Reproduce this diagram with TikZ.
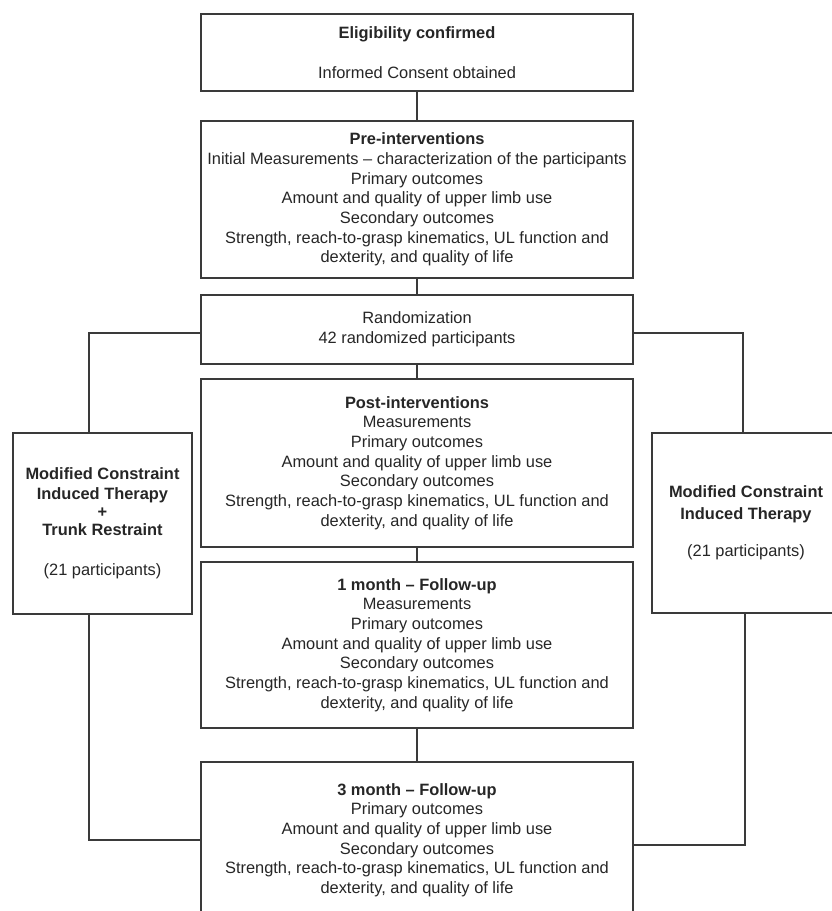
\documentclass[tikz,border=0pt]{standalone}
\usepackage{fontspec}
\setmainfont{Liberation Sans}
\definecolor{linec}{HTML}{3A3A3A}
\definecolor{textc}{HTML}{262626}
\begin{document}
\begin{tikzpicture}[x=1pt,y=-1pt,
  box/.style={draw=linec, line width=1.3pt, fill=white, align=center, inner sep=0pt, text=textc, font=\fontsize{16.4}{19.7}\selectfont},
  conn/.style={draw=linec, line width=1.3pt}]
\clip (0,0) rectangle (832,911);
\useasboundingbox (0,0) rectangle (832,911);
\node[box, minimum width=432pt, minimum height=77pt] (elig) at (417,52.5)
  {\textbf{Eligibility confirmed}\\[20pt]Informed Consent obtained};
\node[box, minimum width=432pt, minimum height=157pt] (pre) at (417,199.5)
  {\textbf{Pre-interventions}\\Initial Measurements -- characterization of the participants\\Primary outcomes\\Amount and quality of upper limb use\\Secondary outcomes\\Strength, reach-to-grasp kinematics, UL function and\\dexterity, and quality of life};
\node[box, minimum width=432pt, minimum height=69pt] (rand) at (417,329.5)
  {Randomization\\42 randomized participants};
\node[box, minimum width=432pt, minimum height=168pt] (post) at (417,463)
  {\textbf{Post-interventions}\\Measurements\\Primary outcomes\\Amount and quality of upper limb use\\Secondary outcomes\\Strength, reach-to-grasp kinematics, UL function and\\dexterity, and quality of life};
\node[box, minimum width=432pt, minimum height=166pt] (m1) at (417,645)
  {\textbf{1 month -- Follow-up}\\Measurements\\Primary outcomes\\Amount and quality of upper limb use\\Secondary outcomes\\Strength, reach-to-grasp kinematics, UL function and\\dexterity, and quality of life};
\node[box, minimum width=432pt, minimum height=156pt] (m3) at (417,840)
  {\textbf{3 month -- Follow-up}\\Primary outcomes\\Amount and quality of upper limb use\\Secondary outcomes\\Strength, reach-to-grasp kinematics, UL function and\\dexterity, and quality of life};
\node[box, minimum width=179pt, minimum height=181pt] (left) at (102.5,523.5)
  {\textbf{Modified Constraint}\\\textbf{Induced Therapy}\\[-2pt]\textbf{+}\\[-1pt]\textbf{Trunk Restraint}\\[20pt](21 participants)};
\node[box, minimum width=188pt, minimum height=180pt] (right) at (746,523)
  {\textbf{Modified Constraint}\\[2pt]\textbf{Induced Therapy}\\[18pt](21 participants)};
\draw[conn] (elig.south) -- (pre.north);
\draw[conn] (pre.south) -- (rand.north);
\draw[conn] (rand.south) -- (post.north);
\draw[conn] (post.south) -- (m1.north);
\draw[conn] (m1.south) -- (m3.north);
\draw[conn] ([yshift=-3.5pt]rand.west) -| ([xshift=-13.5pt]left.north);
\draw[conn] ([xshift=-13.5pt]left.south) |- (m3.west);
\draw[conn] ([yshift=-3.5pt]rand.east) -| ([xshift=-3pt]right.north);
\draw[conn] ([xshift=-1pt]right.south) |- ([yshift=-5pt]m3.east);
\end{tikzpicture}
\end{document}
